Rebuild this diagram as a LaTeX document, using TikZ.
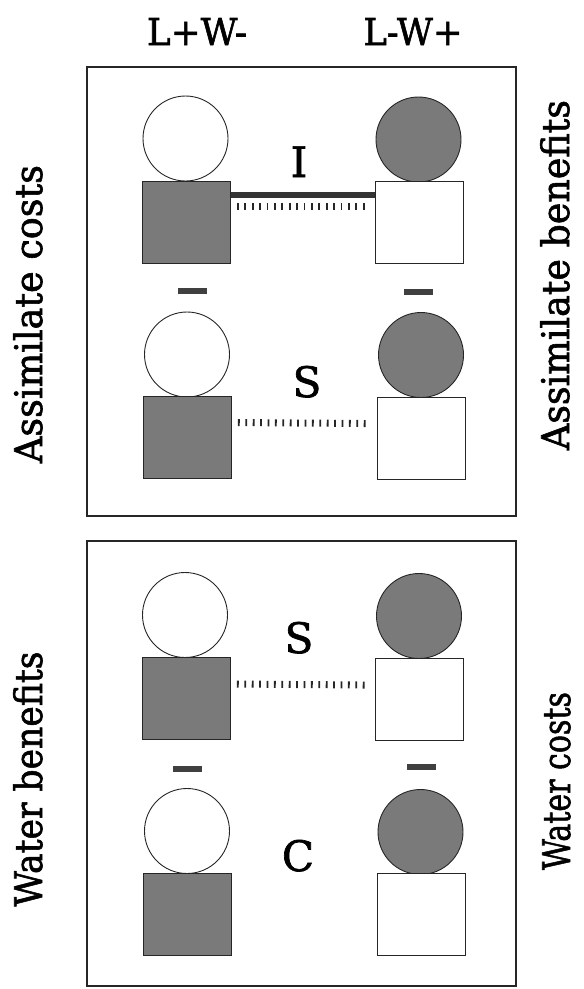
\documentclass[tikz,border=0pt]{standalone}
\usepackage{fontspec}
\setmainfont{DejaVu Serif}
\newfontfamily\figserif[FakeBold=1.6]{DejaVu Serif}
\begin{document}
\begin{tikzpicture}[x=1pt,y=-1pt,
  frame/.style={draw=black!85, line width=1.1pt},
  ball/.style={circle, draw=black!85, line width=0.9pt, minimum size=85pt, inner sep=0pt},
  blk/.style={rectangle, draw=black!85, line width=0.9pt, minimum width=88pt, minimum height=82pt, inner sep=0pt},
  shaded/.style={fill=black!52},
  open/.style={fill=white},
  minusbar/.style={rectangle, fill=black!75, minimum width=29pt, minimum height=6pt, inner sep=0pt},
  thickline/.style={draw=black!80, line width=6pt},
  tickline/.style={draw=black!85, line width=7pt, dash pattern=on 1.8pt off 5.6pt},
  collab/.style={font=\figserif\fontsize{37}{40}\selectfont, inner sep=0pt, anchor=base},
  midlab/.style={font=\figserif\fontsize{42}{46}\selectfont, inner sep=0pt, anchor=base},
  sidelab/.style={font=\figserif\fontsize{38}{42}\selectfont, inner sep=0pt, anchor=base, rotate=90}
]
\useasboundingbox (0,0) rectangle (584,989);

% column headings
\node[collab] (h1) at (197,45) {\resizebox{100pt}{\height}{L+W-}};
\node[collab] (h2) at (413,45) {\resizebox{99pt}{\height}{L-W+}};

% frames
\draw[frame] (87,67) rectangle (516,516);
\draw[frame] (87,541) rectangle (516,986);

% side labels
\node[sidelab] (ac) at (42,314) {\resizebox{298pt}{\height}{Assimilate costs}};
\node[sidelab] (ab) at (569,275) {\resizebox{350pt}{\height}{Assimilate benefits}};
\node[sidelab] (wb) at (42,779) {\resizebox{255pt}{\height}{Water benefits}};
\node[sidelab] (wc) at (570,781) {\resizebox{178pt}{\height}{Water costs}};

% ---- top frame, row 1 (I)
\node[ball, open]   (c1l) at (185.5,138.5) {};
\node[ball, shaded] (c1r) at (418.5,139.5) {};
\node[blk, shaded]  (s1l) at (186.5,222) {};
\node[blk, open]    (s1r) at (419.5,222) {};
\draw[thickline] ([yshift=-14pt]s1l.north east) -- ([yshift=-14pt]s1r.north west);
\draw[tickline] ([xshift=6pt,yshift=-26pt]s1l.north east) -- ([xshift=-6pt,yshift=-26pt]s1r.north west);
\node[midlab] (lI) at (299,177) {I};

\node[minusbar] (m1l) at (192,291) {};
\node[minusbar] (m1r) at (418,292) {};

% ---- top frame, row 2 (S)
\node[ball, open]   (c2l) at (187,354.5) {};
\node[ball, shaded] (c2r) at (421,355) {};
\node[blk, shaded]  (s2l) at (187.5,437) {};
\node[blk, open]    (s2r) at (421.5,438) {};
\draw[tickline] ([xshift=6pt,yshift=-27pt]s2l.north east) -- ([xshift=-6pt,yshift=-27pt]s2r.north west);
\node[midlab] (lS1) at (307,397) {S};

% ---- bottom frame, row 1 (S)
\node[ball, open]   (c3l) at (185,615) {};
\node[ball, shaded] (c3r) at (419,616) {};
\node[blk, shaded]  (s3l) at (186.5,698.5) {};
\node[blk, open]    (s3r) at (419.5,699.5) {};
\draw[tickline] ([xshift=6pt,yshift=-27pt]s3l.north east) -- ([xshift=-6pt,yshift=-27pt]s3r.north west);
\node[midlab] (lS2) at (299,653) {S};

\node[minusbar] (m2l) at (187.5,769) {};
\node[minusbar] (m2r) at (421,767) {};

% ---- bottom frame, row 2 (C)
\node[ball, open]   (c4l) at (187,831) {};
\node[ball, shaded] (c4r) at (420.5,832) {};
\node[blk, shaded]  (s4l) at (187,914) {};
\node[blk, open]    (s4r) at (421,914.5) {};
\node[midlab] (lC) at (298,871) {C};
\end{tikzpicture}
\end{document}
